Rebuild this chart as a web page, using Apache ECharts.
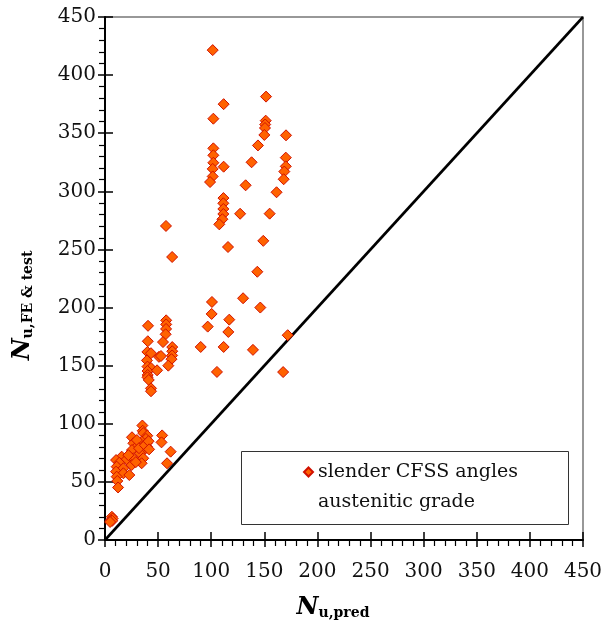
<!DOCTYPE html>
<html>
<head>
<meta charset="utf-8">
<script src="https://cdn.jsdelivr.net/npm/echarts@6/dist/echarts.min.js"></script>
<style>
html,body{margin:0;padding:0;background:#fff;}
#chart{width:603px;height:629px;}
</style>
</head>
<body>
<div id="chart"></div>
<script>
// Axis ticks
var axisMin = 0, axisMax = 450, axisStep = 50;

// Series: slender CFSS angles, austenitic grade  [N_u,pred , N_u,FE&test]
var predUpper = [101.4,151.6,111.7,102,151.3,150.8,150.6,150,170.4,144,102,102,102,111.7,138,170.2,170.2,168.8,101.4,101.4,98.9,168.2,132.4,161.5,111.5,111.4,111.4,111.4,110.5,107.6,127.2,155,115.8,149,143.4,130,146.2,100.7,100.4,117,96.7,116.1,172,90.1,111.7,139.3,105.4,167.7];
var testUpper = [421.5,381.5,375,362.5,360.8,357.5,354.5,348.5,348.2,339.5,337,331,324.6,321.2,325,329,321.5,317,319.3,312.8,308,310.4,305.2,299.2,294.2,289.7,284.8,280.5,276,271.6,280.7,280.8,252.1,257.4,230.8,208,200,204.8,194.5,189.6,183.6,179,176.2,166.1,166.1,163.6,144.6,144.5];

var predMiddle = [57.4,63.2,40.5,57.6,57.6,57.5,57.1,40.3,54.6,63.3,63.3,63.2,62.6,39.9,43.3,50.8,52.7,39.5,59.6,40,43.3,40,49,40.2,40,41.2,43.3,43.3];
var testMiddle = [270.2,243.5,184.3,189,185.5,181.6,177,171,170.3,166,162.4,158.8,155.6,161.8,160.7,157.6,158.3,154.5,150,149.2,148,145.4,146,142,140,137.7,130.5,128];

var predLower = [35.2,53.8,53.2,61.8,58.4,35.5,36,39.8,25.4,38.5,26.7,34.5,39.2,39.5,29.8,25.4,36,33,15.7,20.4,26.7,36,10.4,13.5,25.1,34.5,11,17.3,10.4,17.3,11,22.9,11.6,12.3,30,32,22,29,37.5,41,41.5,6.5,7.2,5.5,6.8,4.8];
var testLower = [98.5,90,84,76,66,94,92,89.7,88.4,87,83.2,84.6,83.2,80.3,80.3,77.4,76.8,74.6,71.7,69.4,70.3,70.3,68.8,66.5,64.5,66,63.1,61.7,58.8,57.4,54.5,55.9,50.8,45.2,86,79,73,67,81.5,85,78,20,18.5,17,16.5,15.5];

var seriesName = 'slender CFSS angles\naustenitic grade';

function pairs(xs, ys){ var out=[]; for(var i=0;i<xs.length;i++){ out.push([xs[i], ys[i]]); } return out; }
var scatterData = pairs(predUpper, testUpper).concat(pairs(predMiddle, testMiddle), pairs(predLower, testLower));
var lineData = [[axisMin, axisMin],[axisMax, axisMax]];

var FONT = 'DejaVu Serif';
var chart = echarts.init(document.getElementById('chart'), null, {renderer:'canvas'});

function makeAxis(isX, primary){
  var ax = {
    type:'value', min:axisMin, max:axisMax, interval:axisStep,
    gridIndex:0,
    position: isX ? 'bottom' : 'left',
    splitLine:{show:false},
    nameMoveOverlap:false,
    axisLine:{show:primary, onZero:false, lineStyle:{color:'#000', width:2}},
    axisTick:{show:true, inside:!primary, length: primary ? 7 : 8, lineStyle:{color:'#000', width:1.5}},
    minorTick:{show:primary, splitNumber:5, length:6, lineStyle:{color:'#000', width:1.2}},
    axisLabel:{show:primary, color:'#111', fontFamily:FONT, fontSize:20, margin: isX ? 22 : 9}
  };
  if (primary) {
    ax.nameLocation = 'middle';
    ax.nameTextStyle = {fontFamily:FONT};
    if (isX) {
      ax.name = '{n|N}{s|u,pred}';
      ax.nameGap = 52;
      ax.nameTextStyle.padding = [0, 22, 0, 0];
    } else {
      ax.name = '{n|N}{s|u,FE & test}';
      ax.nameGap = 70;
      ax.nameRotate = 90;
      ax.nameTextStyle.padding = [0, 54, 0, 0];
    }
    ax.nameTextStyle.rich = {
      n:{fontFamily:FONT, fontSize:24, fontWeight:'bold', fontStyle:'italic', color:'#000', lineHeight:28, verticalAlign:'bottom'},
      s:{fontFamily:FONT, fontSize:14, fontWeight:'bold', color:'#000', lineHeight:13, verticalAlign:'bottom'}
    };
  }
  return ax;
}

var option = {
  backgroundColor:'#fff',
  animation:false,
  grid:{left:105, right:20, top:17, bottom:89, outerBoundsMode:'none', containLabel:false, show:true, borderColor:'#777', borderWidth:1.5, backgroundColor:'transparent'},
  xAxis:[makeAxis(true, true), makeAxis(true, false)],
  yAxis:[makeAxis(false, true), makeAxis(false, false)],
  legend:{
    show:true,
    data:[{name:seriesName, icon:'diamond'}],
    formatter:function(name){ return ' \n' + name; },
    left:303, top:427,
    padding:0,
    itemWidth:9, itemHeight:9, itemGap:0,
    textStyle:{fontFamily:FONT, fontSize:19, color:'#111', lineHeight:30}
  },
  graphic:[{
    type:'rect', left:239, top:449, shape:{width:327, height:73},
    style:{fill:'none', stroke:'#333', lineWidth:1}, z:0
  }],
  series:[
    {
      type:'line', data:lineData, xAxisIndex:0, yAxisIndex:0,
      showSymbol:false, symbol:'none', silent:true,
      lineStyle:{color:'#000', width:2.6}, z:2
    },
    {
      name:seriesName, type:'scatter', data:scatterData, xAxisIndex:0, yAxisIndex:0,
      symbol:'diamond', symbolSize:11,
      itemStyle:{color:'#ff6200', borderColor:'#d01000', borderWidth:1, opacity:1},
      z:3
    }
  ]
};
chart.setOption(option);
</script>
</body>
</html>
